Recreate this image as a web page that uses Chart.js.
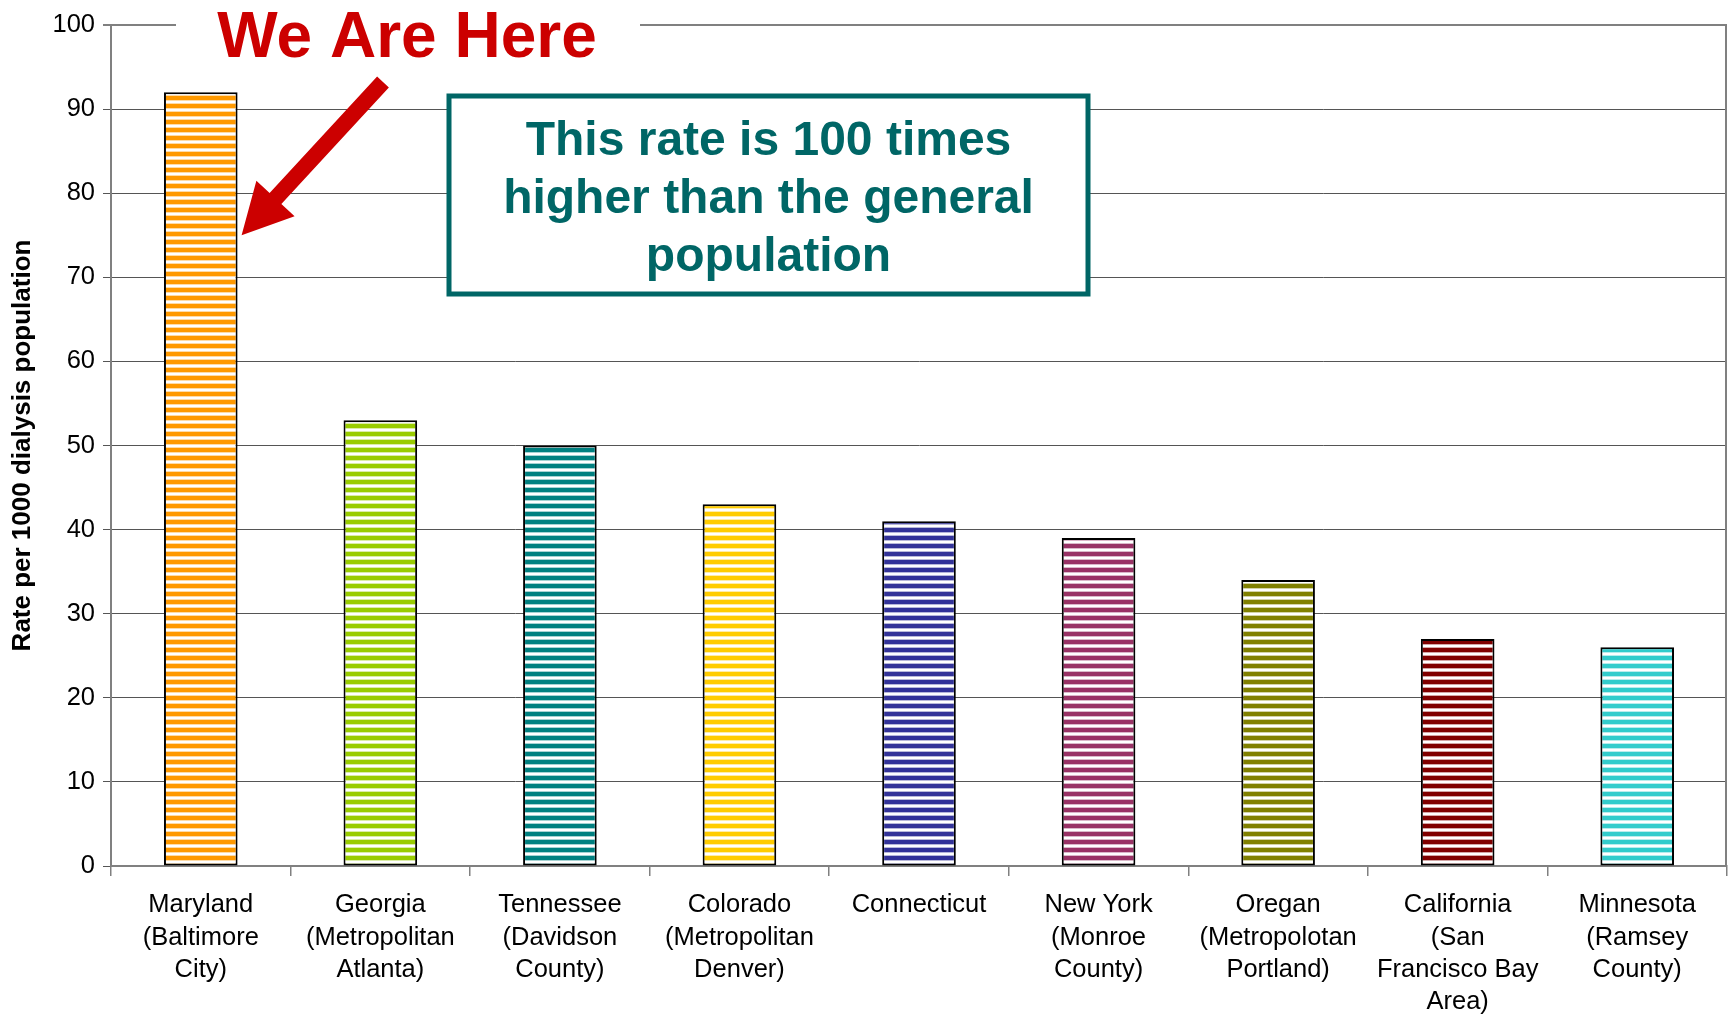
<!DOCTYPE html>
<html>
<head>
<meta charset="utf-8">
<script src="https://cdn.jsdelivr.net/npm/chart.js@4.4.1/dist/chart.umd.min.js"></script>
<style>
  html, body { margin: 0; padding: 0; background: #fff; }
  #wrap { width: 1730px; height: 1014px; }
</style>
</head>
<body>
<div id="wrap"><canvas id="rateChart" width="1730" height="1014"></canvas></div>
<script>
// data
var categories = [
    ['Maryland', '(Baltimore', 'City)'],
    ['Georgia', '(Metropolitan', 'Atlanta)'],
    ['Tennessee', '(Davidson', 'County)'],
    ['Colorado', '(Metropolitan', 'Denver)'],
    ['Connecticut'],
    ['New York', '(Monroe', 'County)'],
    ['Oregan', '(Metropolotan', 'Portland)'],
    ['California', '(San', 'Francisco Bay', 'Area)'],
    ['Minnesota', '(Ramsey', 'County)'],
];
var rates = [92, 53, 50, 43, 41, 39, 34, 27, 26];
var barColors = ['#FF9900', '#99CC00', '#008080', '#FFCC00', '#333399', '#993366', '#808000', '#800000', '#33CCCC'];
var yMin = 0, yMax = 100, yStep = 10;
var yTitle = 'Rate per 1000 dialysis population';
var calloutTitle = 'We Are Here';
var calloutLines = ['This rate is 100 times', 'higher than the general', 'population'];

// horizontal stripe fill like the old office pattern
function stripes(color) {
    var c = document.createElement('canvas');
    c.width = 8; c.height = 8;
    var g = c.getContext('2d');
    g.fillStyle = '#fff';
    g.fillRect(0, 0, 8, 8);
    g.fillStyle = color;
    g.fillRect(0, 0, 8, 4);
    g.globalAlpha = 0.35;
    g.fillRect(0, 4, 8, 1);
    g.fillRect(0, 7, 8, 1);
    g.globalAlpha = 1;
    return g.createPattern(c, 'repeat');
}

var FONT = '"Liberation Sans", Arial, sans-serif';

var callout = {
    id: 'callout',
    afterDraw: function(chart) {
        var ctx = chart.ctx;
        var area = chart.chartArea;
        var y = chart.scales.y;
        var bar = chart.getDatasetMeta(0).data[0];
        ctx.save();

        // right frame line
        ctx.strokeStyle = '#808080';
        ctx.lineWidth = 2;
        ctx.beginPath();
        ctx.moveTo(area.right - 1, area.top);
        ctx.lineTo(area.right - 1, area.bottom);
        ctx.stroke();

        // "We Are Here" over the top line
        ctx.fillStyle = '#fff';
        ctx.fillRect(176, area.top - 4, 464, 8);
        ctx.fillStyle = '#CC0000';
        ctx.font = 'bold 64px ' + FONT;
        ctx.textAlign = 'center';
        ctx.textBaseline = 'alphabetic';
        ctx.fillText(calloutTitle, 407, 57);

        // arrow pointing at the first bar
        var tipX = bar.x + bar.width / 2 + 4;
        var tipY = y.getPixelForValue(75);
        var tailX = 383, tailY = 82;
        var dx = tailX - tipX, dy = tailY - tipY;
        var len = Math.sqrt(dx * dx + dy * dy);
        var ux = dx / len, uy = dy / len;
        var px = -uy, py = ux;
        var headLen = 50, headW = 26, shaftW = 8;
        var bx = tipX + ux * headLen, by = tipY + uy * headLen;
        ctx.fillStyle = '#CC0000';
        ctx.beginPath();
        ctx.moveTo(tipX, tipY);
        ctx.lineTo(bx + px * headW, by + py * headW);
        ctx.lineTo(bx + px * shaftW, by + py * shaftW);
        ctx.lineTo(tailX + px * shaftW, tailY + py * shaftW);
        ctx.lineTo(tailX - px * shaftW, tailY - py * shaftW);
        ctx.lineTo(bx - px * shaftW, by - py * shaftW);
        ctx.lineTo(bx - px * headW, by - py * headW);
        ctx.closePath();
        ctx.fill();

        // teal box
        var bxL = 449, bxT = 96, bxW = 639, bxH = 198;
        ctx.fillStyle = '#fff';
        ctx.fillRect(bxL, bxT, bxW, bxH);
        ctx.strokeStyle = '#006666';
        ctx.lineWidth = 5;
        ctx.strokeRect(bxL, bxT, bxW, bxH);
        ctx.fillStyle = '#006666';
        ctx.font = 'bold 48px ' + FONT;
        ctx.textBaseline = 'middle';
        calloutLines.forEach(function(t, i) {
            ctx.fillText(t, bxL + bxW / 2, 142 + i * 58);
        });
        ctx.restore();
    }
};

var rateChartCanvas = document.getElementById('rateChart').getContext('2d');
var rateChart = new Chart(rateChartCanvas, {
    type: 'bar',
    data: {
        labels: categories,
        datasets: [{
            label: 'Rate',
            data: rates,
            backgroundColor: barColors.map(stripes),
            borderColor: '#000',
            borderWidth: 2,
            borderSkipped: false,
            barPercentage: 0.41,
            categoryPercentage: 1,
        }],
    },
    options: {
        responsive: false,
        animation: false,
        layout: { padding: { top: 25, right: 3, left: 0, bottom: 0 } },
        plugins: {
            legend: { display: false },
            tooltip: { enabled: false },
        },
        scales: {
            x: {
                grid: {
                    offset: true,
                    drawOnChartArea: false,
                    color: '#808080',
                    tickLength: 10,
                    lineWidth: 1.5,
                },
                border: { color: '#808080', width: 2 },
                ticks: {
                    color: '#000',
                    font: { family: FONT, size: 25.5, lineHeight: 1.27 },
                    maxRotation: 0,
                    minRotation: 0,
                    autoSkip: false,
                    padding: 13,
                },
                afterFit: function(s) { s.height = 148; },
            },
            y: {
                min: yMin,
                max: yMax,
                ticks: {
                    stepSize: yStep,
                    color: '#000',
                    font: { family: FONT, size: 25.5 },
                    padding: 8,
                },
                grid: {
                    color: function(c) { return c.tick && c.tick.value === yMax ? '#808080' : '#555'; },
                    lineWidth: function(c) { return c.tick && c.tick.value === yMax ? 2 : 1; },
                    tickLength: 8,
                },
                border: { color: '#808080', width: 2 },
                title: {
                    display: true,
                    text: yTitle,
                    color: '#000',
                    font: { family: FONT, size: 26, weight: 'bold' },
                    padding: { top: 7, bottom: 0 },
                },
                afterFit: function(s) { s.width = 111; },
            },
        },
    },
    plugins: [callout],
});
</script>
</body>
</html>
